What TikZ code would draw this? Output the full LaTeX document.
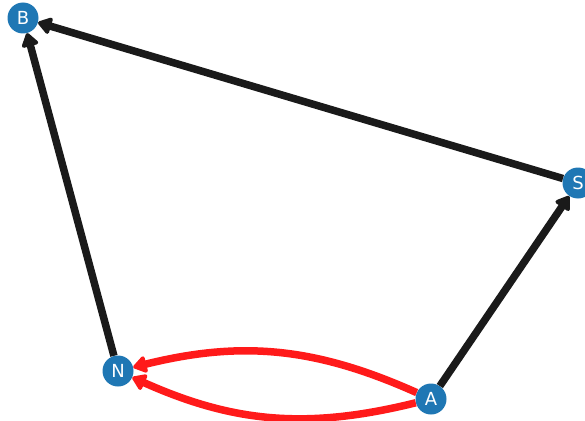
\documentclass[tikz,border=0pt]{standalone}
\usepackage{fontspec}
\setmainfont{DejaVu Sans}
\usetikzlibrary{arrows.meta}
\definecolor{nodeblue}{HTML}{1F77B4}
\definecolor{edgeblack}{HTML}{1A1A1A}
\definecolor{edgered}{HTML}{FF1A1A}
\begin{document}
\begin{tikzpicture}[x=1pt,y=1pt,
  vert/.style={circle,fill=nodeblue,minimum size=31pt,inner sep=0pt,text=white,font=\fontsize{18}{20}\selectfont},
  tip/.style={-{Triangle[length=15pt,width=19pt,round]}},
  blackedge/.style={draw=edgeblack,line width=7.5pt,tip},
  rededge/.style={draw=edgered,line width=7.5pt,tip}]
\useasboundingbox (0,0) rectangle (585,-420);
\node[vert] (B) at (23,-18) {B};
\node[vert] (S) at (578,-183) {S};
\node[vert] (N) at (118,-371) {N};
\node[vert] (A) at (431,-399) {A};
\draw[blackedge] (N) -- (B);
\draw[blackedge] (S) -- (B);
\draw[blackedge] (A) -- (S);
\draw[rededge] (A) to[bend right=19] (N);
\draw[rededge] (A) to[bend left=19] (N);
\end{tikzpicture}
\end{document}
